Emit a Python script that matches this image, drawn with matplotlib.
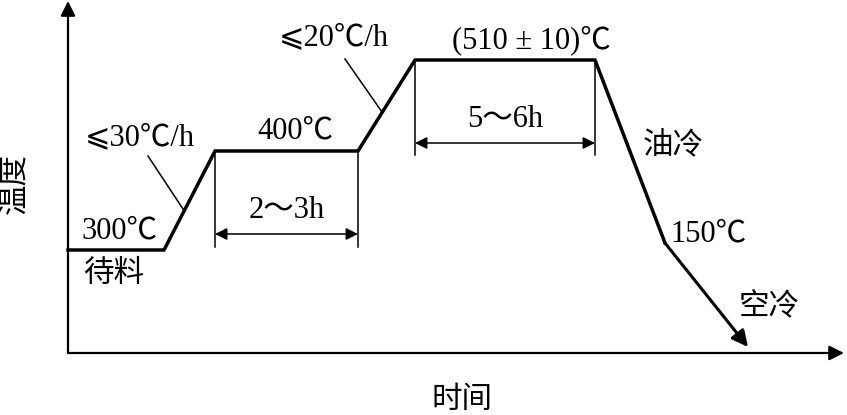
import matplotlib
matplotlib.use("Agg")
import matplotlib.pyplot as plt

plt.rcParams["font.family"] = ["Liberation Serif", "Noto Sans CJK SC", "DejaVu Sans"]

# schematic process curve (time units, temperature units; origin at axis corner)
time = [0, 96, 147, 290, 347, 527, 597, 680]
temp = [103, 103, 202, 202, 293, 293, 110, 6]

# hold-time dimension marks: (start, end, bottom of ticks, arrow height, label)
holds = [
    (147, 290, 106, 119, "2～3h"),
    (347, 527, 198, 210, "5～6h"),
]

rate_labels = ["⩽30℃/h", "⩽20℃/h"]
temp_labels = ["300℃", "400℃", "(510 ± 10)℃", "150℃"]
cool_labels = ["待料", "油冷", "空冷"]

FS = 22
fig = plt.figure(figsize=(8.47, 4.15), dpi=100)
ax = fig.add_axes([0, 0, 1, 1])
ax.set_xlim(-68, 779)
ax.set_ylim(-62, 353)
ax.axis("off")

# axes with arrows
ax.annotate("", xy=(0, 352), xytext=(0, 0),
            arrowprops=dict(arrowstyle="-|>", lw=1.6, color="black",
                            mutation_scale=22, shrinkA=0, shrinkB=0))
ax.annotate("", xy=(776, 0), xytext=(0, 0),
            arrowprops=dict(arrowstyle="-|>", lw=1.6, color="black",
                            mutation_scale=22, shrinkA=0, shrinkB=0))

# main curve
ax.plot(time[:7], temp[:7], color="black", lw=2.5, solid_joinstyle="miter")
ax.annotate("", xy=(time[7], temp[7]), xytext=(time[6], temp[6]),
            arrowprops=dict(arrowstyle="-|>", lw=2.2, color="black",
                            mutation_scale=24, shrinkA=0, shrinkB=0))

# hold-time dimensions
for (t0, t1, bottom, h, label), top in zip(holds, [temp[2], temp[4]]):
    for t in (t0, t1):
        ax.plot([t, t], [top, bottom], color="black", lw=1.1)
    ax.annotate("", xy=(t0, h), xytext=(t1, h),
                arrowprops=dict(arrowstyle="<|-|>", lw=1.1, color="black",
                                mutation_scale=18, shrinkA=0, shrinkB=0))
    ax.text((t0 + t1) / 2, h + 9, label, fontsize=FS, ha="center", va="bottom")

# heating-rate leaders
ax.plot([80, 115], [197, 144], color="black", lw=1.1)
ax.plot([277, 314], [294, 241], color="black", lw=1.1)
ax.text(72, 215, rate_labels[0], fontsize=FS, ha="center", va="center")
ax.text(266, 315, rate_labels[1], fontsize=FS, ha="center", va="center")

# temperature labels
ax.text(51, 122, temp_labels[0], fontsize=FS, ha="center", va="center")
ax.text(227, 222, temp_labels[1], fontsize=FS, ha="center", va="center")
ax.text(463, 313, temp_labels[2], fontsize=FS, ha="center", va="center")
ax.text(640, 119, temp_labels[3], fontsize=FS, ha="center", va="center")

# process notes
ax.text(46, 79, cool_labels[0], fontsize=FS, ha="center", va="center")
ax.text(605, 206, cool_labels[1], fontsize=FS, ha="center", va="center")
ax.text(701, 45, cool_labels[2], fontsize=FS, ha="center", va="center")

# axis titles
ax.text(-53, 170, "温度", fontsize=FS, ha="center", va="center", rotation=90)
ax.text(394, -47, "时间", fontsize=FS, ha="center", va="center")

fig.savefig("out.png", dpi=100)
